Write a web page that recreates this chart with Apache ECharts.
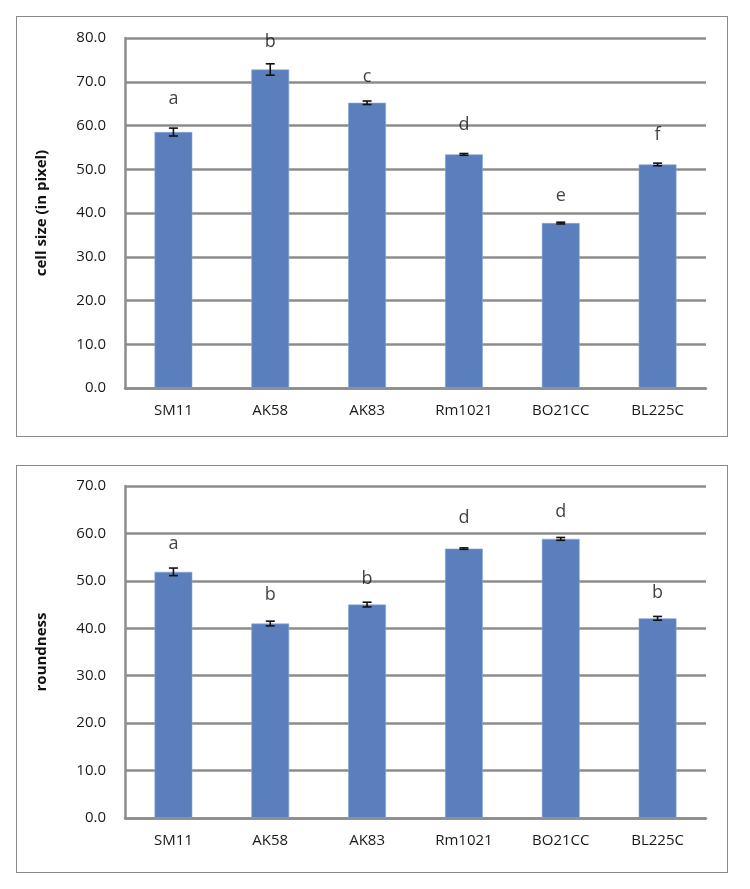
<!DOCTYPE html>
<html>
<head>
<meta charset="utf-8">
<script src="https://cdn.jsdelivr.net/npm/echarts@6/dist/echarts.min.js"></script>
<style>
  body { margin: 0; background: #fff; }
  .box { position: absolute; left: 16px; width: 710px; border: 1.5px solid #8a8a8a; background: #fff; }
  #top { top: 16px; height: 419px; }
  #bottom { top: 465px; height: 406px; }
</style>
</head>
<body>
<div id="top" class="box"></div>
<div id="bottom" class="box"></div>
<script>
const categories = ['SM11', 'AK58', 'AK83', 'Rm1021', 'BO21CC', 'BL225C']

// cell size (in pixel)
const cellSize = [58.5, 72.8, 65.2, 53.4, 37.7, 51.1]
const cellSizeErr = [0.9, 1.3, 0.4, 0.2, 0.2, 0.3]
const cellSizeLetters = ['a', 'b', 'c', 'd', 'e', 'f']
const cellSizeLetterY = [66.1, 79.2, 71.2, 60.2, 43.9, 57.8]

// roundness
const roundness = [51.9, 41.0, 45.0, 56.8, 58.85, 42.1]
const roundnessErr = [0.8, 0.5, 0.5, 0.15, 0.3, 0.4]
const roundnessLetters = ['a', 'b', 'b', 'd', 'd', 'b']
const roundnessLetterY = [57.7, 47.0, 50.4, 63.3, 64.5, 47.4]

const font = '"Open Sans", "Liberation Sans", sans-serif'

function buildOption({ values, errs, letters, letterY, name, max, gridTop, gridHeight }) {
  return {
    animation: false,
    textStyle: { fontFamily: font },
    grid: {
      left: 108,
      right: 21,
      top: gridTop,
      height: gridHeight
    },
    xAxis: {
      type: 'category',
      data: categories,
      axisTick: { show: false },
      axisLine: { lineStyle: { color: '#8c8c8c', width: 2.5 } },
      axisLabel: { color: '#1a1a1a', fontSize: 15, margin: 15, fontFamily: font }
    },
    yAxis: {
      type: 'value',
      min: 0,
      max: max,
      interval: 10,
      name: name,
      nameLocation: 'middle',
      nameGap: 76,
      nameTextStyle: { color: '#111', fontSize: 15, fontWeight: 'bold', fontFamily: font },
      axisLine: { show: true, lineStyle: { color: '#8c8c8c', width: 2.5 } },
      axisTick: { show: false },
      axisLabel: {
        color: '#1a1a1a',
        fontSize: 15,
        margin: 19,
        fontFamily: font,
        formatter: v => v.toFixed(1)
      },
      splitLine: { lineStyle: { color: '#8c8c8c', width: 2.5 } }
    },
    series: [
      {
        type: 'bar',
        data: values,
        barWidth: '39%',
        itemStyle: { color: '#5b7fbc', borderColor: '#8aa6d6', borderWidth: 0.6 }
      },
      {
        type: 'custom',
        data: values.map((v, i) => [i, v - errs[i], v + errs[i]]),
        renderItem(params, api) {
          const lo = api.coord([api.value(0), api.value(1)])
          const hi = api.coord([api.value(0), api.value(2)])
          const cap = 4.5
          const style = { stroke: '#111', lineWidth: 1.6 }
          return {
            type: 'group',
            children: [
              { type: 'line', shape: { x1: lo[0], y1: lo[1], x2: hi[0], y2: hi[1] }, style },
              { type: 'line', shape: { x1: lo[0] - cap, y1: lo[1], x2: lo[0] + cap, y2: lo[1] }, style },
              { type: 'line', shape: { x1: hi[0] - cap, y1: hi[1], x2: hi[0] + cap, y2: hi[1] }, style }
            ]
          }
        },
        z: 5
      },
      {
        type: 'scatter',
        symbolSize: 0,
        data: letterY.map((y, i) => [i, y]),
        label: {
          show: true,
          position: 'inside',
          formatter: p => letters[p.dataIndex],
          color: '#111',
          fontSize: 18,
          fontFamily: font
        },
        z: 6
      }
    ]
  }
}

const topChart = echarts.init(document.getElementById('top'))
topChart.setOption(buildOption({
  values: cellSize,
  errs: cellSizeErr,
  letters: cellSizeLetters,
  letterY: cellSizeLetterY,
  name: 'cell size (in pixel)',
  max: 80,
  gridTop: 21,
  gridHeight: 350
}))

const bottomChart = echarts.init(document.getElementById('bottom'))
bottomChart.setOption(buildOption({
  values: roundness,
  errs: roundnessErr,
  letters: roundnessLetters,
  letterY: roundnessLetterY,
  name: 'roundness',
  max: 70,
  gridTop: 20,
  gridHeight: 332
}))
</script>
</body>
</html>
